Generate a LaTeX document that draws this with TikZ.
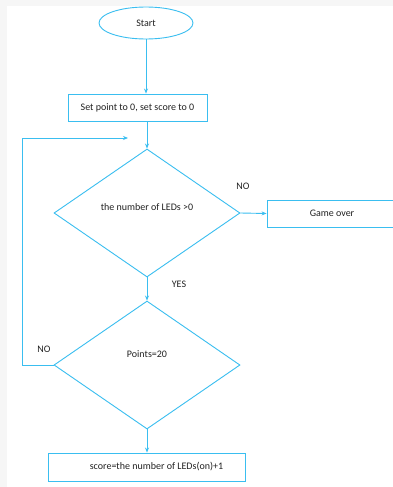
\documentclass[tikz,border=0pt]{standalone}
\usepackage{fontspec}
\setmainfont{Carlito}
\usetikzlibrary{arrows.meta,shapes.geometric}
\definecolor{flow}{RGB}{58,190,240}
\definecolor{ink}{RGB}{34,34,34}
\definecolor{frame}{RGB}{246,246,246}

\begin{document}
\begin{tikzpicture}[x=1pt, y=-1pt,
    term/.style={ellipse, draw=flow, line width=0.9pt, minimum width=94pt,
                 minimum height=32pt, inner sep=0pt, font=\fontsize{10}{12}\selectfont, text=ink},
    proc/.style={rectangle, draw=flow, line width=0.9pt, inner sep=0pt,
                 font=\fontsize{10}{12}\selectfont, text=ink},
    test/.style={diamond, draw=flow, line width=0.9pt, minimum width=186pt,
                 minimum height=128pt, inner sep=0pt, text height=6.5pt,
                 font=\fontsize{10}{12}\selectfont, text=ink},
    lab/.style={font=\fontsize{10}{12}\selectfont, text=ink, inner sep=0pt},
    flw/.style={draw=flow, line width=0.9pt, -{Stealth[length=5pt,width=4pt]}}]

  % ---------- page and frame ------------------------------------------------
  \useasboundingbox (0,0) rectangle (393,487);
  \clip (0,0) rectangle (393,487);
  \fill[frame] (0,0) rectangle (393,487);
  \fill[white] (7,6) rectangle (393,487);

  % ---------- boxes ---------------------------------------------------------
  \node[term] (start) at (146,23) {Start};
  \node[proc, minimum width=139pt, minimum height=27pt] (init) at (137.5,107.5)
    {Set point to 0, set score to 0};
  \node[test, text depth=12.5pt] (check) at (147,213) {the number of LEDs >0};
  \node[proc, minimum width=130pt, minimum height=27pt] (over) at (332,213.5)
    {Game over};
  \node[test, text depth=22.5pt] (points) at (147,365) {Points=20};
  \node[proc, minimum width=197pt, minimum height=28pt] (score) at (146.5,467)
    {\hspace*{20pt}score=the number of LEDs(on)+1};

  % ---------- labels --------------------------------------------------------
  \node[lab] (noA)  at (243,186) {NO};
  \node[lab] (yes)  at (179,284) {YES};
  \node[lab] (noB)  at (44,349)  {NO};

  % ---------- connectors ----------------------------------------------------
  \coordinate (loopL)   at (22,138);
  \coordinate (loopend) at (128,138);
  \draw[flw] (start.south) -- (start.south |- init.north);
  \draw[flw] (check.north |- init.south) -- (check.north);
  \draw[flw] (check.east) -- (over.west);
  \draw[flw] (check.south) -- (points.north);
  \draw[flw] (points.south) -- (points.south |- score.north);
  \draw[flw] (points.west) -| (loopL) -- (loopend);
\end{tikzpicture}
\end{document}
